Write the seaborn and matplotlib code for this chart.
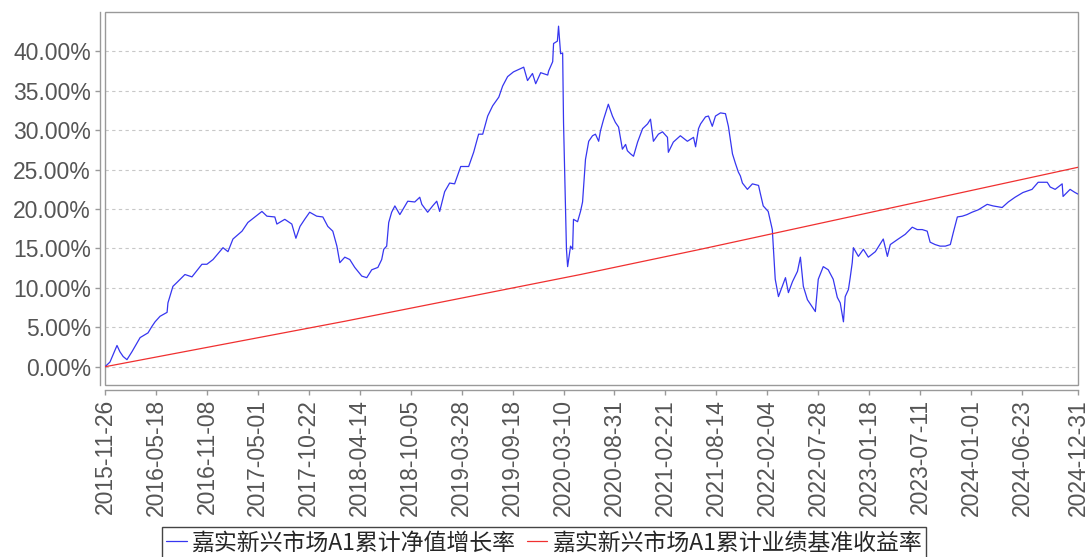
import pandas as pd
import seaborn as sns
import matplotlib.pyplot as plt
from matplotlib.patches import Rectangle
from matplotlib.ticker import FuncFormatter

# 累计净值增长率 (%)
nav_dates = [
    '2015-11-26', '2015-12-13', '2016-01-06', '2016-01-16', '2016-01-27', '2016-02-09',
    '2016-02-26', '2016-03-25', '2016-04-21', '2016-05-04', '2016-05-15', '2016-06-01',
    '2016-06-25', '2016-06-28', '2016-07-15', '2016-07-29', '2016-08-25', '2016-09-18',
    '2016-10-22', '2016-11-08', '2016-11-29', '2017-01-02', '2017-01-19', '2017-02-05',
    '2017-03-08', '2017-03-28', '2017-04-21', '2017-05-15', '2017-06-01', '2017-06-28',
    '2017-07-05', '2017-08-01', '2017-08-25', '2017-09-08', '2017-09-22', '2017-10-08',
    '2017-10-25', '2017-11-18', '2017-12-09', '2017-12-26', '2018-01-12', '2018-01-26',
    '2018-02-05', '2018-02-22', '2018-03-11', '2018-03-28', '2018-04-21', '2018-05-08',
    '2018-05-25', '2018-06-15', '2018-06-28', '2018-07-05', '2018-07-15', '2018-07-22',
    '2018-08-01', '2018-08-12', '2018-08-29', '2018-09-25', '2018-10-19', '2018-11-05',
    '2018-11-12', '2018-12-02', '2018-12-19', '2019-01-02', '2019-01-12', '2019-01-29',
    '2019-02-15', '2019-03-04', '2019-03-25', '2019-04-21', '2019-05-08', '2019-05-25',
    '2019-06-08', '2019-06-25', '2019-07-12', '2019-08-02', '2019-08-15', '2019-09-01',
    '2019-09-21', '2019-10-26', '2019-11-08', '2019-11-25', '2019-12-06', '2019-12-23',
    '2020-01-16', '2020-01-19', '2020-02-02', '2020-02-05', '2020-02-18', '2020-02-22',
    '2020-02-29', '2020-03-07', '2020-03-10', '2020-03-17', '2020-03-20', '2020-03-24',
    '2020-04-03', '2020-04-10', '2020-04-13', '2020-04-27', '2020-05-07', '2020-05-14',
    '2020-05-24', '2020-06-04', '2020-06-17', '2020-06-27', '2020-07-08', '2020-07-14',
    '2020-07-25', '2020-08-10', '2020-08-24', '2020-09-03', '2020-09-14', '2020-09-27',
    '2020-10-08', '2020-10-14', '2020-10-25', '2020-11-04', '2020-11-18', '2020-12-05',
    '2020-12-22', '2021-01-01', '2021-01-11', '2021-01-28', '2021-02-11', '2021-02-28',
    '2021-03-03', '2021-03-20', '2021-04-13', '2021-05-07', '2021-05-28', '2021-06-04',
    '2021-06-14', '2021-06-21', '2021-07-08', '2021-07-18', '2021-07-31', '2021-08-11',
    '2021-08-28', '2021-09-14', '2021-09-24', '2021-10-08', '2021-10-18', '2021-10-28',
    '2021-11-04', '2021-11-11', '2021-11-28', '2021-12-15', '2022-01-05', '2022-01-11',
    '2022-01-21', '2022-02-07', '2022-02-21', '2022-03-03', '2022-03-14', '2022-03-27',
    '2022-04-07', '2022-04-17', '2022-05-01', '2022-05-18', '2022-05-28', '2022-06-07',
    '2022-06-21', '2022-07-07', '2022-07-18', '2022-07-28', '2022-08-14', '2022-08-31',
    '2022-09-17', '2022-10-01', '2022-10-11', '2022-10-22', '2022-10-28', '2022-11-08',
    '2022-11-14', '2022-11-21', '2022-11-25', '2022-12-12', '2022-12-29', '2023-01-15',
    '2023-02-08', '2023-03-07', '2023-03-21', '2023-03-31', '2023-04-27', '2023-05-21',
    '2023-06-14', '2023-07-01', '2023-07-18', '2023-08-04', '2023-08-14', '2023-08-31',
    '2023-09-17', '2023-10-05', '2023-10-22', '2023-11-01', '2023-11-15', '2023-12-02',
    '2023-12-18', '2024-01-04', '2024-01-25', '2024-02-25', '2024-03-16', '2024-04-16',
    '2024-05-07', '2024-05-30', '2024-06-26', '2024-07-27', '2024-08-17', '2024-09-17',
    '2024-09-27', '2024-10-14', '2024-11-07', '2024-11-10', '2024-12-04', '2024-12-21',
    '2024-12-31',
]
nav_values = [
    0.0, 0.6, 2.7, 1.9, 1.3, 0.9,
    1.9, 3.7, 4.3, 5.1, 5.7, 6.4,
    6.9, 8.1, 10.2, 10.7, 11.7, 11.4,
    13.0, 13.0, 13.6, 15.1, 14.6, 16.2,
    17.2, 18.3, 19.0, 19.7, 19.1, 19.0,
    18.1, 18.7, 18.1, 16.3, 17.8, 18.7,
    19.6, 19.1, 19.0, 17.8, 17.2, 15.3,
    13.2, 13.9, 13.6, 12.6, 11.5, 11.3,
    12.3, 12.6, 13.6, 14.9, 15.3, 18.3,
    19.6, 20.4, 19.3, 21.0, 20.9, 21.5,
    20.6, 19.6, 20.4, 21.0, 19.7, 22.2,
    23.3, 23.2, 25.4, 25.4, 27.2, 29.5,
    29.5, 31.8, 33.1, 34.2, 35.6, 36.8,
    37.4, 38.0, 36.3, 37.2, 35.9, 37.3,
    37.0, 37.5, 38.7, 41.0, 41.3, 43.2,
    39.7, 39.8, 31.0, 20.0, 14.9, 12.7,
    15.3, 14.9, 18.7, 18.4, 19.7, 20.9,
    26.3, 28.6, 29.3, 29.5, 28.6, 29.9,
    31.4, 33.3, 31.8, 31.0, 30.4, 27.6,
    28.2, 27.4, 27.0, 26.7, 28.5, 30.2,
    30.8, 31.4, 28.6, 29.5, 29.8, 29.1,
    27.2, 28.5, 29.3, 28.6, 29.1, 27.9,
    30.2, 30.8, 31.7, 31.8, 30.5, 31.8,
    32.2, 32.1, 30.5, 27.0, 25.8, 24.7,
    24.2, 23.3, 22.5, 23.2, 23.0, 22.0,
    20.4, 19.7, 17.4, 11.1, 8.9, 10.2,
    11.3, 9.4, 10.8, 12.1, 13.9, 10.2,
    8.5, 7.6, 7.0, 11.1, 12.7, 12.3,
    11.1, 8.8, 8.1, 5.7, 8.9, 9.8,
    11.3, 13.2, 15.1, 14.0, 14.9, 13.9,
    14.6, 16.2, 14.0, 15.5, 16.2, 16.8,
    17.7, 17.4, 17.4, 17.2, 15.8, 15.5,
    15.3, 15.3, 15.5, 17.0, 19.0, 19.1,
    19.3, 19.6, 19.9, 20.6, 20.4, 20.2,
    20.9, 21.5, 22.1, 22.5, 23.4, 23.4,
    22.8, 22.5, 23.2, 21.6, 22.5, 22.1,
    21.9,
]

# 累计业绩基准收益率 (%)
bench_dates = ['2015-11-26', '2018-02-22', '2020-05-07', '2021-06-21', '2023-05-04', '2024-12-31']
bench_values = [0.0, 5.77, 11.7, 14.9, 20.4, 25.3]

tick_dates = [
    '2015-11-26', '2016-05-18', '2016-11-08', '2017-05-01', '2017-10-22', '2018-04-14',
    '2018-10-05', '2019-03-28', '2019-09-18', '2020-03-10', '2020-08-31', '2021-02-21',
    '2021-08-14', '2022-02-04', '2022-07-28', '2023-01-18', '2023-07-11', '2024-01-01',
    '2024-06-23', '2024-12-31',
]
y_ticks = [0, 5, 10, 15, 20, 25, 30, 35, 40]

nav_label = '嘉实新兴市场A1累计净值增长率'
bench_label = '嘉实新兴市场A1累计业绩基准收益率'

sns.set_style('white')
plt.rcParams['font.family'] = ['Liberation Sans', 'Noto Sans CJK SC', 'DejaVu Sans']

nav = pd.DataFrame({'date': pd.to_datetime(nav_dates), 'value': nav_values})
bench = pd.DataFrame({'date': pd.to_datetime(bench_dates), 'value': bench_values})

fig = plt.figure(figsize=(10.88, 5.57), dpi=100)
ax = fig.add_axes([0.0965, 0.309, 0.8943, 0.6695])

sns.lineplot(data=nav, x='date', y='value', color='#3636f0', lw=0.9, label=nav_label, ax=ax)
sns.lineplot(data=bench, x='date', y='value', color='#f03030', lw=0.9, label=bench_label, ax=ax)

ax.set_xlim(pd.Timestamp(tick_dates[0]), pd.Timestamp(tick_dates[-1]))
ax.set_ylim(-2.3, 45)
ax.set_xticks(pd.to_datetime(tick_dates))
ax.set_xticklabels(tick_dates)
ax.set_yticks(y_ticks)
ax.yaxis.set_major_formatter(FuncFormatter(lambda v, p: '%.2f%%' % v))
ax.set_xlabel('')
ax.set_ylabel('')

ax.yaxis.grid(True, linestyle=(0, (3, 3)), color='#c8c8c8', lw=0.8)
ax.xaxis.grid(False)

for s in ['top', 'right']:
    ax.spines[s].set_visible(False)
for s in ['left', 'bottom']:
    ax.spines[s].set_position(('outward', 3.6))
    ax.spines[s].set_color('#999999')
    ax.spines[s].set_linewidth(1.0)
ax.add_patch(Rectangle((0, 0), 1, 1, transform=ax.transAxes, fill=False,
                       ec='#999999', lw=1.0, clip_on=False))

ax.tick_params(axis='both', which='major', labelsize=16.5, colors='#999999',
               labelcolor='#555555', length=3.6, width=1.0, direction='out', pad=3)
ax.tick_params(axis='both', left=True, bottom=True)
ax.tick_params(axis='x', labelrotation=90)

ax.legend(loc='upper center', bbox_to_anchor=(0.5, 0.054), bbox_transform=fig.transFigure,
          ncol=2, frameon=True, fancybox=False, edgecolor='#444444', framealpha=1,
          prop={'family': ['Noto Sans CJK SC'], 'size': 16.5},
          handlelength=0.9, handletextpad=0.2, columnspacing=0.5,
          borderpad=0.2, borderaxespad=0)
ax.get_legend().get_frame().set_linewidth(1.0)

plt.savefig('out.png', dpi=100)
